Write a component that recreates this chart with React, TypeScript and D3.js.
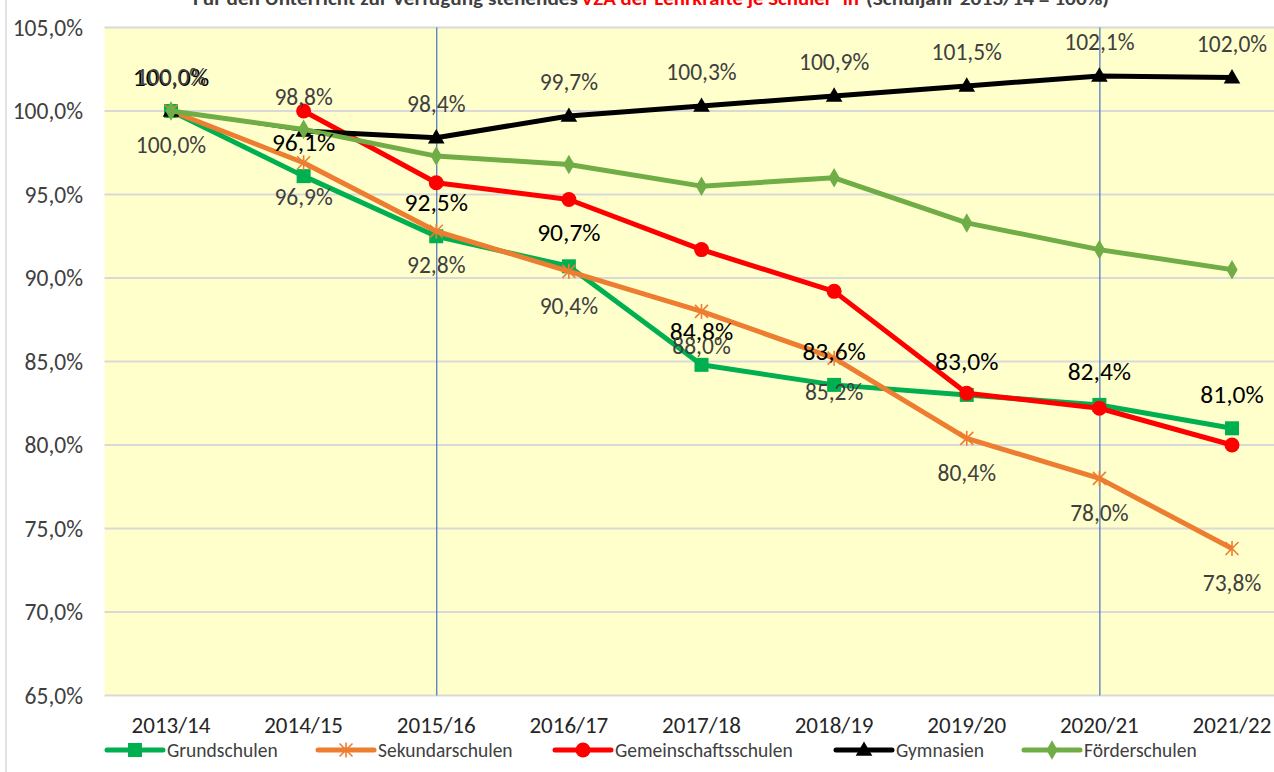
import React from "react";
import * as d3 from "d3";

const categories = ["2013/14", "2014/15", "2015/16", "2016/17", "2017/18", "2018/19", "2019/20", "2020/21", "2021/22"];
const grundschulen = [100.0, 96.1, 92.5, 90.7, 84.8, 83.6, 83.0, 82.4, 81.0];
const sekundarschulen = [100.0, 96.9, 92.8, 90.4, 88.0, 85.2, 80.4, 78.0, 73.8];
const gemeinschaftsschulen: (number | null)[] = [null, 100.0, 95.7, 94.7, 91.7, 89.2, 83.1, 82.2, 80.0];
const gymnasien = [100.0, 98.8, 98.4, 99.7, 100.3, 100.9, 101.5, 102.1, 102.0];
const foerderschulen = [100.0, 98.9, 97.3, 96.8, 95.5, 96.0, 93.3, 91.7, 90.5];
const yTicks = [65, 70, 75, 80, 85, 90, 95, 100, 105];
const markedCategories = ["2015/16", "2020/21"];

type Series = {
  name: string;
  values: (number | null)[];
  color: string;
  marker: "square" | "star" | "circle" | "triangle" | "diamond";
  label?: "above" | "below";
  labelColor?: string;
  labelSize?: number;
};

const series: Series[] = [
  { name: "Grundschulen", values: grundschulen, color: "#00B050", marker: "square", label: "above", labelColor: "#000000", labelSize: 25.5 },
  { name: "Sekundarschulen", values: sekundarschulen, color: "#ED7D31", marker: "star", label: "below", labelColor: "#404040", labelSize: 23.5 },
  { name: "Gemeinschaftsschulen", values: gemeinschaftsschulen, color: "#FF0000", marker: "circle" },
  { name: "Gymnasien", values: gymnasien, color: "#000000", marker: "triangle", label: "above", labelColor: "#404040", labelSize: 23.5 },
  { name: "Förderschulen", values: foerderschulen, color: "#70AD47", marker: "diamond" },
];

const W = 1274;
const H = 772;
const FONT = "Carlito, Calibri, Lato, sans-serif";

const x = d3.scalePoint<string>().domain(categories).range([171, 1232]);
const y = d3.scaleLinear().domain([65, 105]).range([695.5, 27.5]);
const plotLeft = 104.5;
const plotRight = 1300;

const fmt = (v: number) => d3.format(".1f")(v).replace(".", ",") + "%";

function Marker({ kind, cx, cy, color }: { kind: Series["marker"]; cx: number; cy: number; color: string }) {
  switch (kind) {
    case "square":
      return <rect x={cx - 7} y={cy - 7} width={14} height={14} fill={color} />;
    case "circle":
      return <circle cx={cx} cy={cy} r={7.5} fill={color} />;
    case "triangle": {
      const p = d3.symbol().type(d3.symbolTriangle).size(120)();
      return <path d={p || ""} transform={`translate(${cx},${cy + 1})`} fill={color} />;
    }
    case "diamond": {
      const p = d3.symbol().type(d3.symbolDiamond).size(110)();
      return <path d={p || ""} transform={`translate(${cx},${cy})`} fill={color} />;
    }
    case "star": {
      const r = 6.5;
      return (
        <g stroke={color} strokeWidth={1.6}>
          <line x1={cx - r} y1={cy - r} x2={cx + r} y2={cy + r} />
          <line x1={cx - r} y1={cy + r} x2={cx + r} y2={cy - r} />
          <line x1={cx} y1={cy - r - 1} x2={cx} y2={cy + r + 1} />
        </g>
      );
    }
  }
  return null;
}

export default function App() {
  const line = d3
    .line<{ c: string; v: number | null }>()
    .defined((d) => d.v !== null)
    .x((d) => x(d.c) as number)
    .y((d) => y(d.v as number));

  const legendItems = [
    { s: series[0], x0: 107, tx: 167 },
    { s: series[1], x0: 318, tx: 378 },
    { s: series[2], x0: 555, tx: 615 },
    { s: series[3], x0: 836, tx: 896 },
    { s: series[4], x0: 1024, tx: 1084 },
  ];

  return (
    <svg width={W} height={H} style={{ position: "absolute", left: 0, top: 0, background: "#ffffff" }} fontFamily={FONT}>
      {/* title, cut at top */}
      <text y={5} fontSize={18} fontWeight="bold">
        <tspan x={193} fill="#404040" textLength={385} lengthAdjust="spacingAndGlyphs">Für den Unterricht zur Verfügung stehendes</tspan>
        <tspan x={581} fill="#FF0000" textLength={278} lengthAdjust="spacingAndGlyphs">VZÄ der Lehrkräfte je Schüler*in</tspan>
        <tspan x={866} fill="#404040" textLength={243} lengthAdjust="spacingAndGlyphs">(Schuljahr 2013/14 = 100%)</tspan>
      </text>
      <line x1={6} x2={6} y1={0} y2={H} stroke="#d9d9d9" strokeWidth={1.5} />

      {/* plot area */}
      <rect x={plotLeft} y={y(105)} width={plotRight - plotLeft} height={y(65) - y(105)} fill="#FFFFCC" />
      {yTicks.map((t) => (
        <line key={t} x1={plotLeft} x2={plotRight} y1={y(t)} y2={y(t)} stroke="#D9D9D9" strokeWidth={2} />
      ))}
      {yTicks.map((t) => (
        <text key={"l" + t} x={83} y={y(t)} dy="0.35em" textAnchor="end" fontSize={23.5} fill="#404040">
          {fmt(t)}
        </text>
      ))}
      {categories.map((c) => (
        <text key={c} x={x(c)} y={725} dy="0.35em" textAnchor="middle" fontSize={23} fill="#262626">
          {c}
        </text>
      ))}
      {markedCategories.map((c) => (
        <line key={"m" + c} x1={(x(c) as number) + 0.5} x2={(x(c) as number) + 0.5} y1={y(105)} y2={y(65)} stroke="#4472C4" strokeWidth={1.2} />
      ))}

      {/* series */}
      {series.map((s) => {
        const pts = categories.map((c, i) => ({ c, v: s.values[i] }));
        const thinFirst = s.name === "Gymnasien";
        return (
          <g key={s.name}>
            {thinFirst ? (
              <>
                <path d={line(pts.slice(0, 2)) || ""} fill="none" stroke={s.color} strokeWidth={2} />
                <path d={line(pts.slice(1)) || ""} fill="none" stroke={s.color} strokeWidth={5} strokeLinejoin="round" />
              </>
            ) : (
              <path d={line(pts) || ""} fill="none" stroke={s.color} strokeWidth={5} strokeLinejoin="round" />
            )}
            {pts.map((p) =>
              p.v === null ? null : (
                <Marker key={p.c} kind={s.marker} cx={x(p.c) as number} cy={y(p.v)} color={s.color} />
              )
            )}
          </g>
        );
      })}

      {/* data labels */}
      {series
        .filter((s) => s.label)
        .map((s) => (
          <g key={"lab" + s.name}>
            {categories.map((c, i) => {
              const v = s.values[i];
              if (v === null) return null;
              const off = s.label === "above" ? -34 : 34;
              return (
                <text key={c} x={x(c)} y={y(v) + off} dy="0.35em" textAnchor="middle" fontSize={s.labelSize} fill={s.labelColor}>
                  {fmt(v)}
                </text>
              );
            })}
          </g>
        ))}

      {/* legend */}
      {legendItems.map(({ s, x0, tx }) => (
        <g key={"lg" + s.name}>
          <line x1={x0} x2={x0 + 56} y1={750} y2={750} stroke={s.color} strokeWidth={5} strokeLinecap="round" />
          <Marker kind={s.marker} cx={x0 + 28} cy={750} color={s.color} />
          <text x={tx} y={750} dy="0.35em" fontSize={19.5} fill="#404040">
            {s.name}
          </text>
        </g>
      ))}
    </svg>
  );
}
